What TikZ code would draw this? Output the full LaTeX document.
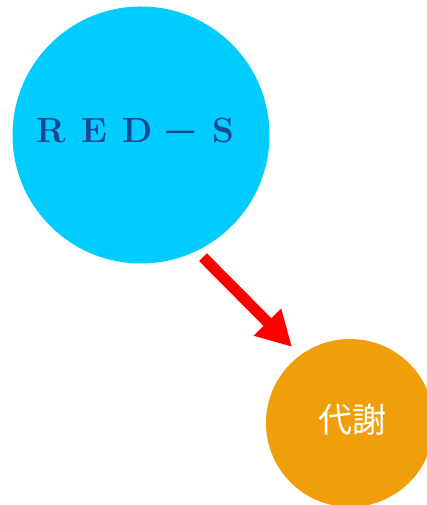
\documentclass[tikz,border=0pt]{standalone}
\usepackage{fontspec}
\newfontfamily\jpfont{Noto Sans CJK JP}
\usetikzlibrary{arrows.meta,calc}
\definecolor{skyfill}{HTML}{00CCFF}
\definecolor{orangefill}{HTML}{F09F0B}
\definecolor{navytext}{HTML}{1C4792}
\definecolor{arrowred}{HTML}{FF0000}
% one evenly spaced cell per character of the title
\newcommand{\cell}[1]{\makebox[43.1pt]{#1}}
\tikzset{
  bubble/.style={circle, inner sep=0pt, draw=none},
  flow/.style={arrowred, line width=11pt,
    -{Triangle[width=36pt,length=35pt]}}
}
\begin{document}
\begin{tikzpicture}[x=1pt,y=1pt]
  \useasboundingbox (0,0) rectangle (427,505);
  % main topic circle
  \node[bubble, fill=skyfill, minimum size=257pt] (reds) at (141,370) {};
  \node[text=navytext, font=\fontsize{35}{38}\selectfont\bfseries,
        anchor=base west, inner sep=0pt] (redslabel) at (29.5,362)
    {\cell{R}\cell{E}\cell{D}\cell{\raisebox{-3pt}{\jpfont\mdseries\scalebox{1.1}[1]{－}}}\cell{S}};
  % related topic circle
  \node[bubble, fill=orangefill, minimum size=168pt] (meta) at (350,82) {};
  \node[text=white, font=\jpfont\fontsize{34}{36}\selectfont] (metalabel) at (352,85) {代謝};
  % connector end points just outside each circle
  \coordinate (s) at ($(reds.center)+(-63.1:137)$);
  \coordinate (t) at ($(meta.center)+(127.3:95.6)$);
  \draw[flow] (s) -- (t);
\end{tikzpicture}
\end{document}
